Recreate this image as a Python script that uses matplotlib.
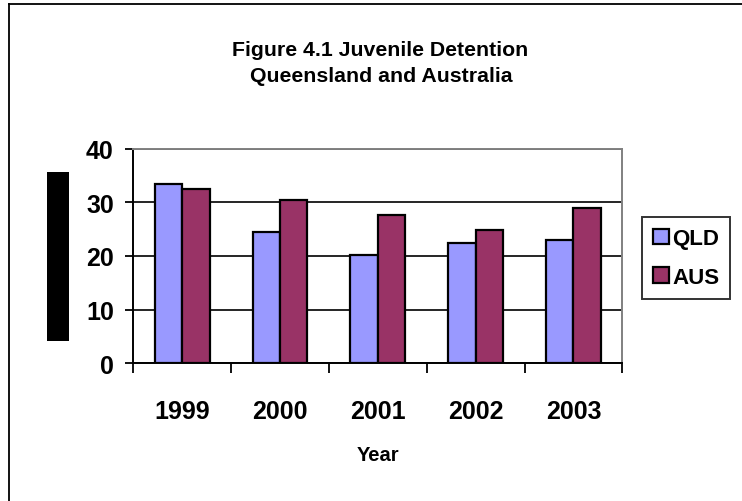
import matplotlib
matplotlib.use("Agg")
import matplotlib.pyplot as plt
from matplotlib.patches import Rectangle
import numpy as np

years = ["1999", "2000", "2001", "2002", "2003"]
qld = [33.5, 24.5, 20.1, 22.5, 23.0]
aus = [32.6, 30.5, 27.7, 24.9, 28.9]
series_names = ["QLD", "AUS"]
yticks = [0, 10, 20, 30, 40]

plt.rcParams["font.family"] = ["Liberation Sans", "DejaVu Sans"]
plt.rcParams["font.weight"] = "bold"

W, H = 742, 502
fig = plt.figure(figsize=(W / 100, H / 100), dpi=100)
fig.patch.set_facecolor("white")

ax = fig.add_axes([133.3 / W, 1 - 364 / H, (622.3 - 133.3) / W, (364 - 150) / H])

x = np.arange(len(years))
bw = 0.28
ax.bar(x - bw / 2, qld, bw, color="#9999FF", edgecolor="black", linewidth=1.6,
       label=series_names[0], zorder=3)
ax.bar(x + bw / 2, aus, bw, color="#993366", edgecolor="black", linewidth=1.6,
       label=series_names[1], zorder=3)

ax.set_xlim(-0.5, len(years) - 0.5)
ax.set_ylim(0, 40)
ax.set_yticks(yticks)
ax.set_yticklabels([str(v) for v in yticks], fontsize=18, fontweight="bold")
ax.yaxis.grid(True, color="black", linewidth=1.2, zorder=1)
ax.set_axisbelow(True)

# category labels at centres, tick marks at category boundaries
ax.set_xticks(x)
ax.set_xticklabels(years, fontsize=18, fontweight="bold")
ax.tick_params(axis="x", length=0, pad=26)
ax.set_xticks(np.arange(-0.5, len(years)), minor=True)
ax.tick_params(axis="x", which="minor", length=7, width=1.3, direction="out", color="black")
ax.tick_params(axis="y", length=6, width=1.3, direction="out", pad=8, color="black")

for s in ["left", "bottom"]:
    ax.spines[s].set_color("black")
    ax.spines[s].set_linewidth(1.4)
for s in ["top", "right"]:
    ax.spines[s].set_color("#808080")
    ax.spines[s].set_linewidth(1.4)

ax.set_xlabel("Year", fontsize=14.5, fontweight="bold", labelpad=16)

fig.text(380 / W, 1 - 50 / H, "Figure 4.1 Juvenile Detention", ha="center", va="center",
         fontsize=15.3, fontweight="bold")
fig.text(381 / W, 1 - 77 / H, "Queensland and Australia", ha="center", va="center",
         fontsize=15.3, fontweight="bold")

leg = ax.legend(loc="upper left", bbox_to_anchor=(642 / W, 1 - 218 / H),
                bbox_transform=fig.transFigure, fontsize=16, frameon=True,
                fancybox=False, handlelength=0.7, handleheight=0.7,
                handletextpad=0.15, borderpad=0.5, labelspacing=0.8, borderaxespad=0)
leg.get_frame().set_edgecolor("black")
leg.get_frame().set_linewidth(1.4)
for t in leg.get_texts():
    t.set_fontweight("bold")

# solid bar beside the value axis
fig.add_artist(Rectangle((46.7 / W, 1 - 341.7 / H), (69 - 46.7) / W, (341.7 - 173.3) / H,
                         transform=fig.transFigure, facecolor="black", edgecolor="none"))

# chart frame, top and left edges
fig.add_artist(plt.Line2D([9 / W, 9 / W], [0, 1 - 5 / H], transform=fig.transFigure,
                          color="black", linewidth=1.3))
fig.add_artist(plt.Line2D([9 / W, 1], [1 - 5 / H, 1 - 5 / H], transform=fig.transFigure,
                          color="black", linewidth=1.3))

fig.savefig("out.png", dpi=100)
